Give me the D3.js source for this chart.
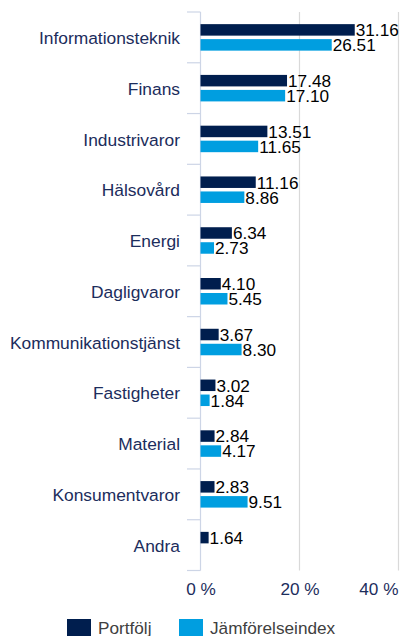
<!DOCTYPE html>
<html>
<head>
<meta charset="utf-8">
<script src="https://cdn.jsdelivr.net/npm/d3@7"></script>
<style>
  html, body { margin: 0; padding: 0; background: #ffffff; }
  svg { display: block; font-family: "Liberation Sans", Arial, sans-serif; }
</style>
</head>
<body>
<svg id="chart" width="400" height="636"></svg>
<script>
const categories = ["Informationsteknik", "Finans", "Industrivaror", "Hälsovård", "Energi", "Dagligvaror", "Kommunikationstjänst", "Fastigheter", "Material", "Konsumentvaror", "Andra"];
const portfolj = [31.16, 17.48, 13.51, 11.16, 6.34, 4.10, 3.67, 3.02, 2.84, 2.83, 1.64];
const jamforelseindex = [26.51, 17.10, 11.65, 8.86, 2.73, 5.45, 8.30, 1.84, 4.17, 9.51, null];
const seriesNames = ["Portfölj", "Jämförelseindex"];
const xTicks = [0, 20, 40];
const xTickLabels = ["0 %", "20 %", "40 %"];

const colors = ["#001e4e", "#009ee0"];
const svg = d3.select("#chart");

const x = d3.scaleLinear().domain([0, 40]).range([200.5, 398.5]);
const y = d3.scaleBand().domain(categories).range([12, 570.5]).padding(0);
const groupH = 26.5;
const off = (y.bandwidth() - groupH) / 2;
const ys = d3.scaleBand().domain(seriesNames).range([off, off + groupH]).paddingInner(0.233).paddingOuter(0);

// gridlines
svg.append("g").selectAll("line").data(xTicks.slice(1)).join("line")
  .attr("x1", d => x(d)).attr("x2", d => x(d))
  .attr("y1", 12).attr("y2", 570.5)
  .attr("stroke", "#d9d9d9").attr("stroke-width", 1.2);

// category axis line
svg.append("line")
  .attr("x1", x(0)).attr("x2", x(0)).attr("y1", 12).attr("y2", 570.5)
  .attr("stroke", "#cdd5e6").attr("stroke-width", 1.2);

// band boundary ticks
const bounds = categories.map(c => y(c)).concat([y.range()[1]]);
svg.append("g").selectAll("line").data(bounds).join("line")
  .attr("x1", 187).attr("x2", x(0))
  .attr("y1", d => d).attr("y2", d => d)
  .attr("stroke", "#cdd5e6").attr("stroke-width", 1.2);

// category labels
const yAxis = svg.append("g").attr("transform", "translate(180,1)")
  .call(d3.axisLeft(y).tickSize(0).tickPadding(0));
yAxis.select(".domain").remove();
yAxis.selectAll("text")
  .attr("font-size", 17.4).attr("fill", "#1c2d5c")
  .attr("font-family", "'Liberation Sans', Arial, sans-serif");

// bars
const rows = categories.map((c, i) => ({ c, vals: [portfolj[i], jamforelseindex[i]] }));
const g = svg.append("g");
rows.forEach(r => {
  r.vals.forEach((v, j) => {
    if (v == null) return;
    const by = y(r.c) + ys(seriesNames[j]);
    g.append("rect")
      .attr("x", x(0)).attr("y", by)
      .attr("width", x(v) - x(0)).attr("height", ys.bandwidth())
      .attr("fill", colors[j]);
    g.append("text")
      .attr("x", x(v) + 1).attr("y", by + ys.bandwidth() / 2)
      .attr("dy", "0.37em")
      .attr("font-size", 17.2).attr("fill", "#000")
      .text(v.toFixed(2));
  });
});

// x axis labels
const xAxis = svg.append("g").attr("transform", "translate(0,575)")
  .call(d3.axisBottom(x).tickValues(xTicks).tickFormat((d, i) => xTickLabels[i]).tickSize(0).tickPadding(8));
xAxis.select(".domain").remove();
xAxis.selectAll("text")
  .attr("font-size", 17.2).attr("fill", "#1c2d5c")
  .attr("font-family", "'Liberation Sans', Arial, sans-serif");
xAxis.selectAll(".tick").filter(d => d === 40).select("text")
  .attr("text-anchor", "end").attr("x", 398 - x(40));

// legend
const legX = [67, 179];
const leg = svg.append("g");
seriesNames.forEach((s, i) => {
  leg.append("rect").attr("x", legX[i]).attr("y", 619).attr("width", 24).attr("height", 24).attr("fill", colors[i]);
  leg.append("text").attr("x", legX[i] + 31).attr("y", 633.5)
    .attr("font-size", 17.2).attr("fill", "#404040").text(s);
});
</script>
</body>
</html>
